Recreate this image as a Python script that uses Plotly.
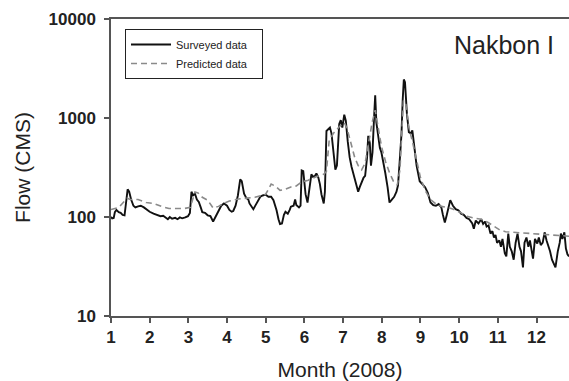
import plotly.graph_objects as go

surveyed_month = [1.00, 1.03, 1.07, 1.10, 1.14, 1.20, 1.25, 1.30, 1.35, 1.40, 1.43, 1.47, 1.52, 1.58, 1.63, 1.70, 1.77, 1.85, 1.91,
                  2.00, 2.10, 2.20, 2.28, 2.35, 2.42, 2.47, 2.52, 2.58, 2.66, 2.72, 2.78, 2.84, 2.92, 2.99,
                  3.04, 3.08, 3.12, 3.17, 3.22, 3.27, 3.32, 3.36, 3.43, 3.50, 3.57, 3.64, 3.70, 3.78, 3.85, 3.92,
                  4.00, 4.06, 4.12, 4.16, 4.22, 4.28, 4.34, 4.38, 4.44, 4.50, 4.55, 4.58, 4.64, 4.68, 4.72, 4.78, 4.86, 4.92,
                  5.00, 5.07, 5.14, 5.20, 5.28, 5.33, 5.37, 5.42, 5.47, 5.51, 5.57, 5.62, 5.65, 5.72, 5.76, 5.79, 5.86, 5.90, 5.93, 5.97,
                  6.03, 6.08, 6.13, 6.18, 6.22, 6.27, 6.31, 6.36, 6.40, 6.44, 6.50, 6.53, 6.57, 6.62, 6.66, 6.70, 6.75, 6.80, 6.84, 6.90, 6.94, 6.98,
                  7.03, 7.07, 7.12, 7.17, 7.22, 7.29, 7.34, 7.39, 7.43, 7.48, 7.53, 7.57, 7.62, 7.65, 7.69, 7.72, 7.76, 7.80, 7.83, 7.86, 7.90, 7.95, 7.99,
                  8.05, 8.09, 8.15, 8.20, 8.26, 8.32, 8.38, 8.42, 8.47, 8.51, 8.54, 8.57, 8.60, 8.65, 8.70, 8.75, 8.79, 8.84, 8.90, 8.98,
                  9.05, 9.12, 9.19, 9.26, 9.33, 9.40, 9.47, 9.54, 9.58, 9.63, 9.68, 9.73, 9.77, 9.84, 9.91, 9.98,
                  10.05, 10.12, 10.19, 10.26, 10.34, 10.38, 10.43, 10.50, 10.57, 10.62, 10.67, 10.71, 10.76, 10.81, 10.86, 10.90, 10.94, 10.98,
                  11.04, 11.08, 11.12, 11.18, 11.22, 11.27, 11.31, 11.36, 11.41, 11.46, 11.51, 11.56, 11.60, 11.65, 11.69, 11.74, 11.79, 11.83, 11.88, 11.91, 11.96,
                  12.02, 12.06, 12.11, 12.16, 12.21, 12.26, 12.30, 12.35, 12.40, 12.45, 12.49, 12.55, 12.60, 12.63, 12.67, 12.72, 12.76, 12.80, 12.84]
surveyed_flow = [100, 97, 98, 112, 118, 112, 110, 105, 104, 150, 190, 180, 150, 130, 125, 128, 130, 125, 120,
                 113, 108, 105, 102, 103, 97, 95, 100, 96, 98, 95, 99, 97, 99, 102,
                 110, 180, 165, 172, 150, 142, 125, 112, 110, 104, 102, 90, 100, 115, 130, 137,
                 130, 118, 113, 115, 130, 165, 240, 230, 172, 155, 150, 137, 125, 120, 128, 140, 160, 165,
                 168, 160, 160, 148, 117, 95, 85, 86, 105, 113, 108, 118, 127, 130, 150, 132, 125, 130, 295, 290,
                 170, 140, 205, 270, 255, 260, 275, 250, 215, 170, 137, 180, 740, 780, 800, 700, 440, 300, 330, 870, 950, 800,
                 1080, 940, 580, 400, 320, 254, 210, 180, 200, 226, 250, 260, 400, 660, 560, 330, 450, 1000, 1700, 900, 690, 500, 450,
                 350, 280, 200, 140, 150, 160, 180, 209, 400, 700, 1500, 2450, 2300, 1100, 720, 700, 750, 500, 330, 230,
                 215, 200, 175, 140, 132, 130, 135, 125, 105, 88, 105, 125, 148, 130, 120, 117,
                 108, 105, 98, 95, 86, 76, 92, 86, 95, 85, 90, 80, 82, 68, 72, 62, 66, 55,
                 58, 50, 60, 43, 40, 68, 50, 45, 37, 55, 68, 50, 45, 31, 55, 62, 50, 58, 45, 38, 60,
                 54, 62, 52, 55, 70, 58, 52, 45, 37, 33, 31, 45, 55, 68, 60, 70, 48, 42, 40]

predicted_month = [1.00, 1.20, 1.42, 1.50, 1.70, 1.91, 2.10, 2.30, 2.50, 2.70, 2.90, 3.05, 3.17, 3.25, 3.36, 3.50, 3.64, 3.78, 3.92,
                   4.06, 4.30, 4.50, 4.72, 4.90, 5.00, 5.14, 5.25, 5.37, 5.50, 5.65, 5.79, 5.93, 6.10, 6.20, 6.35, 6.50, 6.57, 6.64, 6.75, 6.92,
                   7.03, 7.10, 7.20, 7.30, 7.39, 7.48, 7.57, 7.65, 7.75, 7.83, 7.90, 7.99, 8.10, 8.20, 8.30, 8.40, 8.47, 8.56, 8.62, 8.70, 8.80, 8.88,
                   9.00, 9.12, 9.26, 9.40, 9.54, 9.70, 9.85, 10.05, 10.20, 10.40, 10.57, 10.75, 10.90, 11.05, 11.20, 11.40, 11.60, 11.80,
                   12.00, 12.30, 12.60, 12.84]
predicted_flow = [119, 125, 155, 150, 150, 140, 137, 128, 122, 122, 122, 125, 179, 175, 158, 148, 123, 128, 138,
                  145, 152, 155, 158, 165, 170, 215, 205, 186, 190, 201, 206, 226, 235, 245, 260, 270, 290, 594, 700, 830,
                  900, 790, 560, 400, 330, 300, 350, 560, 900, 1200, 800, 520, 360, 280, 230, 210, 300, 1500, 1400, 810, 560, 400,
                  250, 186, 150, 136, 128, 125, 120, 110, 102, 97, 95, 88, 80, 74, 71, 70, 69, 68,
                  67, 66, 65, 64]

month_ticks = list(range(1, 13))
flow_ticks = [10, 100, 1000, 10000]

FONT = "Liberation Sans, Arial, sans-serif"

fig = go.Figure()
fig.add_trace(go.Scatter(x=surveyed_month, y=surveyed_flow, mode="lines", name="Surveyed data\u00a0\u00a0\u00a0",
                         line=dict(color="#111111", width=1.9)))
fig.add_trace(go.Scatter(x=predicted_month, y=predicted_flow, mode="lines", name="Predicted data",
                         line=dict(color="#8a8a8a", width=1.6, dash="6px,4px")))

axis_font = dict(family=FONT, size=17, color="#222222", weight=600)
pw, ph = 569 - 111, 381 - 19 - 65
fig.update_layout(
    width=569, height=381,
    margin=dict(l=111, r=0, t=19, b=65, autoexpand=False),
    paper_bgcolor="white", plot_bgcolor="white",
    showlegend=True,
    legend=dict(x=(125 - 111) / pw, y=(316 - 29) / ph, xanchor="left", yanchor="top",
                bordercolor="#222222", borderwidth=1, bgcolor="white",
                font=dict(family=FONT, size=11, color="#222222"),
                tracegroupgap=0, itemwidth=40),
    xaxis=dict(range=[1, 12.84], tickvals=month_ticks, ticktext=[str(m) for m in month_ticks],
               automargin=False,
               showgrid=False, zeroline=False, showline=True, linecolor="#555555", linewidth=1.5,
               mirror=True, ticks="outside", ticklen=5, tickcolor="#555555", tickwidth=1.5,
               tickfont=axis_font,
               title=dict(text="Month (2008)", font=dict(family=FONT, size=21, color="#222222"),
                          standoff=16)),
    yaxis=dict(type="log", range=[1, 4], tickvals=flow_ticks, ticktext=[str(v) for v in flow_ticks],
               automargin=False,
               showgrid=False, zeroline=False, showline=True, linecolor="#555555", linewidth=1.5,
               ticks="outside", ticklen=5, tickcolor="#555555", tickwidth=1.5,
               tickfont=axis_font, ticklabelstandoff=5,
               title=dict(text="Flow (CMS)", font=dict(family=FONT, size=21, color="#222222"),
                          standoff=12)),
    annotations=[dict(text="Nakbon I", x=(452 - 111) / pw, y=(316 - 45) / ph, xref="paper", yref="paper",
                      xanchor="left", yanchor="middle", showarrow=False,
                      font=dict(family=FONT, size=25, color="#222222"))],
)

fig.write_html("out.html", config={"displayModeBar": False},
               post_script="document.body.style.margin='0';document.body.style.padding='0';")
